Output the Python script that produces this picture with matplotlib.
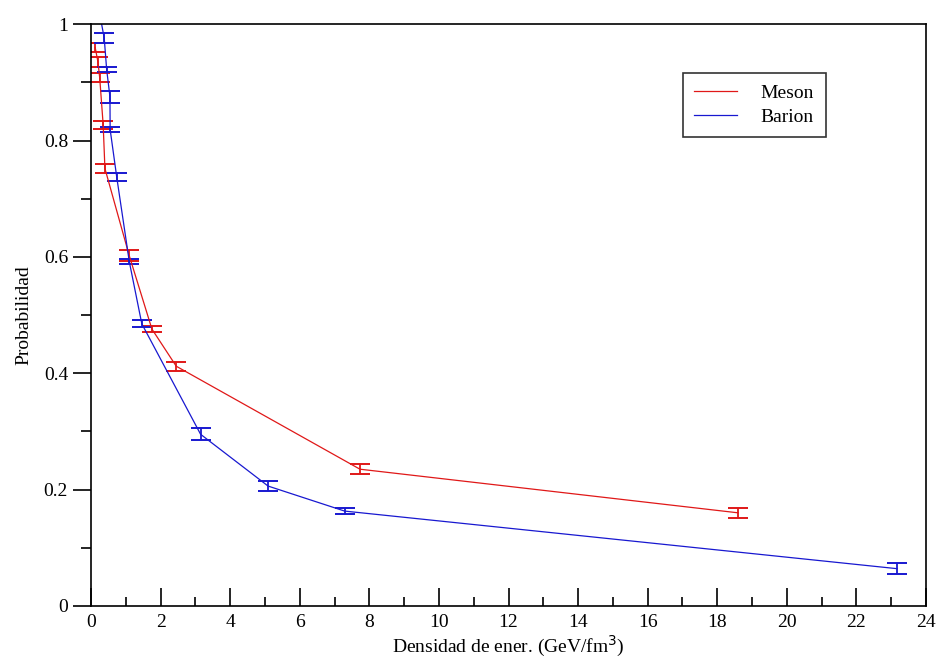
import matplotlib
matplotlib.use('Agg')
import matplotlib.pyplot as plt
from matplotlib.ticker import MultipleLocator

plt.rcParams['font.family'] = ['Liberation Serif', 'DejaVu Serif']

# Meson data
meson_x = [0.12, 0.2, 0.25, 0.35, 0.40, 1.1, 1.75, 2.45, 7.73, 18.6]
meson_y = [0.960, 0.935, 0.908, 0.827, 0.752, 0.602, 0.476, 0.412, 0.235, 0.160]
meson_err = [0.008, 0.008, 0.008, 0.007, 0.007, 0.009, 0.005, 0.008, 0.009, 0.009]

# Barion data
barion_x = [0.15, 0.38, 0.45, 0.545, 0.55, 0.74, 1.1, 1.46, 3.15, 5.09, 7.29, 23.17]
barion_y = [1.05, 0.976, 0.922, 0.875, 0.819, 0.737, 0.592, 0.485, 0.295, 0.206, 0.163, 0.064]
barion_err = [0.008, 0.008, 0.004, 0.010, 0.004, 0.007, 0.004, 0.006, 0.010, 0.009, 0.005, 0.009]

fig = plt.figure(figsize=(9.43, 6.71), dpi=100)
ax = fig.add_axes([0.0965, 0.097, 0.8855, 0.867])

red = '#e01818'
blue = '#1818d0'
ax.errorbar(meson_x, meson_y, yerr=meson_err, color=red, lw=0.9, elinewidth=1.3,
            capsize=7.5, capthick=1.4, label='Meson')
ax.errorbar(barion_x, barion_y, yerr=barion_err, color=blue, lw=0.9, elinewidth=1.3,
            capsize=7.5, capthick=1.4, label='Barion')

ax.set_xlim(0, 24)
ax.set_ylim(0, 1)
ax.xaxis.set_major_locator(MultipleLocator(2))
ax.xaxis.set_minor_locator(MultipleLocator(1))
ax.yaxis.set_major_locator(MultipleLocator(0.2))
ax.yaxis.set_minor_locator(MultipleLocator(0.1))
ax.yaxis.set_major_formatter(plt.FuncFormatter(lambda v, p: '%g' % v))

ax.tick_params(axis='x', which='major', direction='in', length=13, width=1.2, labelsize=14, pad=6)
ax.tick_params(axis='x', which='minor', direction='in', length=6.5, width=1.2)
ax.tick_params(axis='y', which='major', direction='out', length=13, width=1.2, labelsize=14)
ax.tick_params(axis='y', which='minor', direction='out', length=7, width=1.2)
for s in ax.spines.values():
    s.set_linewidth(1.2)

ax.set_xlabel('Densidad de ener. (GeV/fm$^3$)', fontsize=14, labelpad=2)
ax.set_ylabel('Probabilidad', fontsize=14, labelpad=8)

handles, labels = ax.get_legend_handles_labels()
handles = [h[0] for h in handles]
leg = ax.legend(handles, labels, loc='upper left', bbox_to_anchor=(0.697, 0.933),
                fontsize=14, frameon=True, fancybox=False, edgecolor='black',
                handlelength=2.2, borderpad=0.6, labelspacing=0.3, handletextpad=1.2)
leg.get_frame().set_linewidth(1.2)

fig.savefig('out.png', dpi=100)
